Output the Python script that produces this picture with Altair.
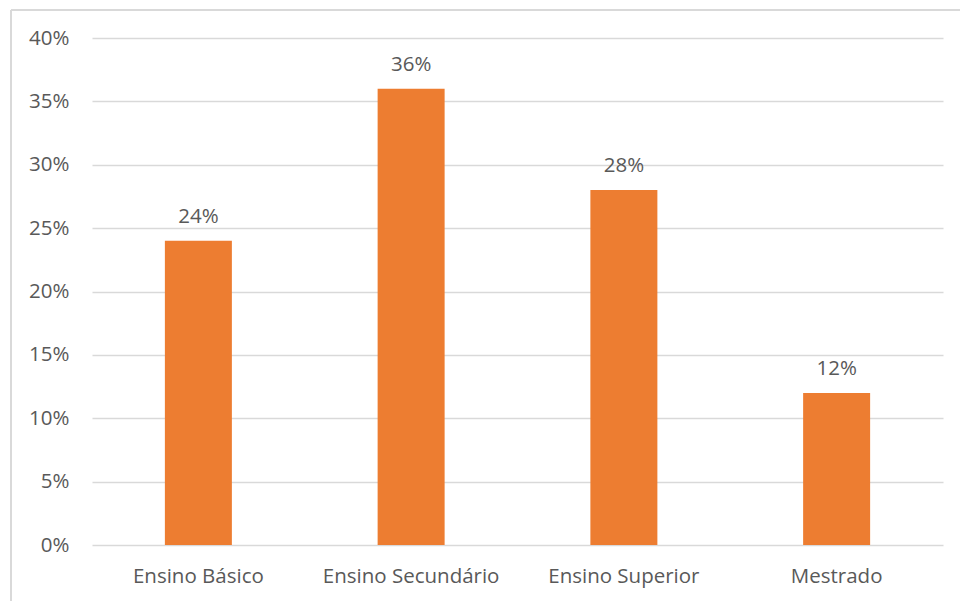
import altair as alt
import pandas as pd

categories = ["Ensino Básico", "Ensino Secundário", "Ensino Superior", "Mestrado"]
values = [0.24, 0.36, 0.28, 0.12]
y_ticks = [0, 0.05, 0.10, 0.15, 0.20, 0.25, 0.30, 0.35, 0.40]

df = pd.DataFrame({"cat": categories, "val": values})

FONT = "Open Sans"
FS = 20.5
TXT = "#595959"
GRID = "#D9D9D9"

x = alt.X("cat:N", sort=categories, title=None,
          scale=alt.Scale(paddingInner=0.685, paddingOuter=0.3425),
          axis=alt.Axis(labelAngle=0, labelFont=FONT, labelFontSize=FS, labelColor=TXT,
                        ticks=False, domain=False, labelPadding=21, grid=False))
y = alt.Y("val:Q", title=None,
          scale=alt.Scale(domain=[0, 0.40], nice=False),
          axis=alt.Axis(values=y_ticks, format=".0%", labelFont=FONT, labelFontSize=FS,
                        labelColor=TXT, ticks=False, domain=False, labelPadding=23,
                        gridColor=GRID, gridWidth=1.5))

bars = alt.Chart(df).mark_bar(color="#ED7D31", size=67).encode(x=x, y=y)
labels = alt.Chart(df).mark_text(font=FONT, fontSize=FS, color=TXT, baseline="alphabetic", dy=-18).encode(
    x=alt.X("cat:N", sort=categories), y="val:Q", text=alt.Text("val:Q", format=".0%"))

frame_top = alt.Chart(df).mark_rule(color=GRID, strokeWidth=2).encode(
    x=alt.value(-81), x2=alt.value(900), y=alt.value(-28))
frame_left = alt.Chart(df).mark_rule(color=GRID, strokeWidth=2).encode(
    x=alt.value(-81), y=alt.value(-28), y2=alt.value(600))

chart = alt.layer(bars, labels, frame_top, frame_left).properties(
    width=851, height=507,
    background="white",
    autosize=alt.AutoSizeParams(type="none"),
    padding={"left": 92, "top": 38, "right": 17, "bottom": 56},
).configure_view(strokeWidth=0, stroke="transparent")

chart.save("out.html", embed_options={"renderer": "svg", "actions": False})
